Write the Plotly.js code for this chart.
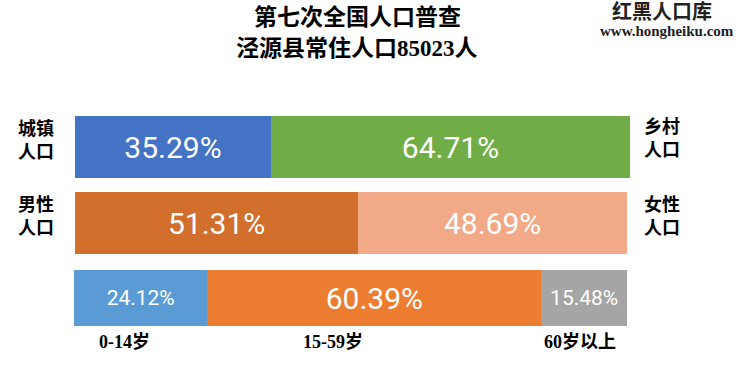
<!DOCTYPE html>
<html><head><meta charset="utf-8">
<script src="https://cdn.plot.ly/plotly-3.0.1.min.js"></script>
<style>html,body{margin:0;padding:0;background:#fff;}#c{width:740px;height:374px;}</style>
</head><body><div id="c"></div>
<script>
const titleLines = ['第七次全国人口普查', '泾源县常住人口85023人'];
const urbanRuralLabels = ['城镇<br>人口', '乡村<br>人口'];
const urbanRuralValues = [35.29, 64.71];
const urbanRuralColors = ['#4472C4', '#70AD47'];
const sexLabels = ['男性<br>人口', '女性<br>人口'];
const sexValues = [51.31, 48.69];
const sexColors = ['#D26F2C', '#F2A987'];
const ageLabels = ['0-14岁', '15-59岁', '60岁以上'];
const ageValues = [24.12, 60.39, 15.48];
const ageColors = ['#5B9BD5', '#ED7D31', '#A5A5A5'];
const ageTextSizes = [21, 30, 21];

const W = 740, H = 374;
const px = x => x / W, py = y => 1 - y / H;
const numFont = 'Roboto, "Noto Sans", sans-serif';
const serif = '"Liberation Serif", "Noto Sans CJK SC", serif';

const traces = [];
function addRow(values, colors, sizes, ax) {
  values.forEach((v, i) => {
    traces.push({
      type: 'bar', orientation: 'h', y: [0], x: [v], width: [1],
      marker: {color: colors[i], line: {width: 0}},
      text: [v.toFixed(2) + '%'], textposition: 'inside', insidetextanchor: 'middle',
      textfont: {color: '#ffffff', size: sizes[i], family: numFont},
      hoverinfo: 'none', showlegend: false,
      xaxis: 'x' + (ax === 1 ? '' : ax), yaxis: 'y' + (ax === 1 ? '' : ax)
    });
  });
}
addRow(urbanRuralValues, urbanRuralColors, [30, 30], 1);
addRow(sexValues, sexColors, [30, 30], 2);
addRow(ageValues, ageColors, ageTextSizes, 3);

function xa(d0, d1, anchor) {
  return {domain: [px(d0), px(d1)], range: [0, 100], visible: false, fixedrange: true, anchor: anchor};
}
function ya(top, bottom, anchor) {
  return {domain: [py(bottom), py(top)], range: [-0.5, 0.5], visible: false, fixedrange: true, anchor: anchor};
}

const annotations = [];
const lblFont = {family: serif, size: 18, color: '#000'};
function ann(text, x, y, font) {
  annotations.push({text: '<b>' + text + '</b>', x: px(x), y: py(y), xref: 'paper', yref: 'paper',
    showarrow: false, xanchor: 'center', yanchor: 'middle', font: font});
}
ann(titleLines[0], 357, 18, {family: serif, size: 23, color: '#000'});
ann(titleLines[1], 357, 48, {family: serif, size: 23, color: '#000'});
ann('红黑人口库', 662, 12, {family: serif, size: 20, color: '#222'});
ann('www.hongheiku.com', 667, 31, {family: serif, size: 15, color: '#222'});
ann(urbanRuralLabels[0], 36, 140, lblFont);
ann(urbanRuralLabels[1], 662, 138, lblFont);
ann(sexLabels[0], 36, 216, lblFont);
ann(sexLabels[1], 662, 216, lblFont);
ann(ageLabels[0], 124, 342, lblFont);
ann(ageLabels[1], 333, 342, lblFont);
ann(ageLabels[2], 580, 342, lblFont);

const layout = {
  width: W, height: H, margin: {l: 0, r: 0, t: 0, b: 0},
  paper_bgcolor: '#fff', plot_bgcolor: 'rgba(0,0,0,0)',
  barmode: 'stack', bargap: 0,
  xaxis: xa(75, 630, 'y'), yaxis: ya(116, 178, 'x'),
  xaxis2: xa(75, 627, 'y2'), yaxis2: ya(192, 254, 'x2'),
  xaxis3: xa(74, 627, 'y3'), yaxis3: ya(270, 326, 'x3'),
  annotations: annotations
};
Plotly.newPlot('c', traces, layout, {staticPlot: true, displayModeBar: false});
</script></body></html>
